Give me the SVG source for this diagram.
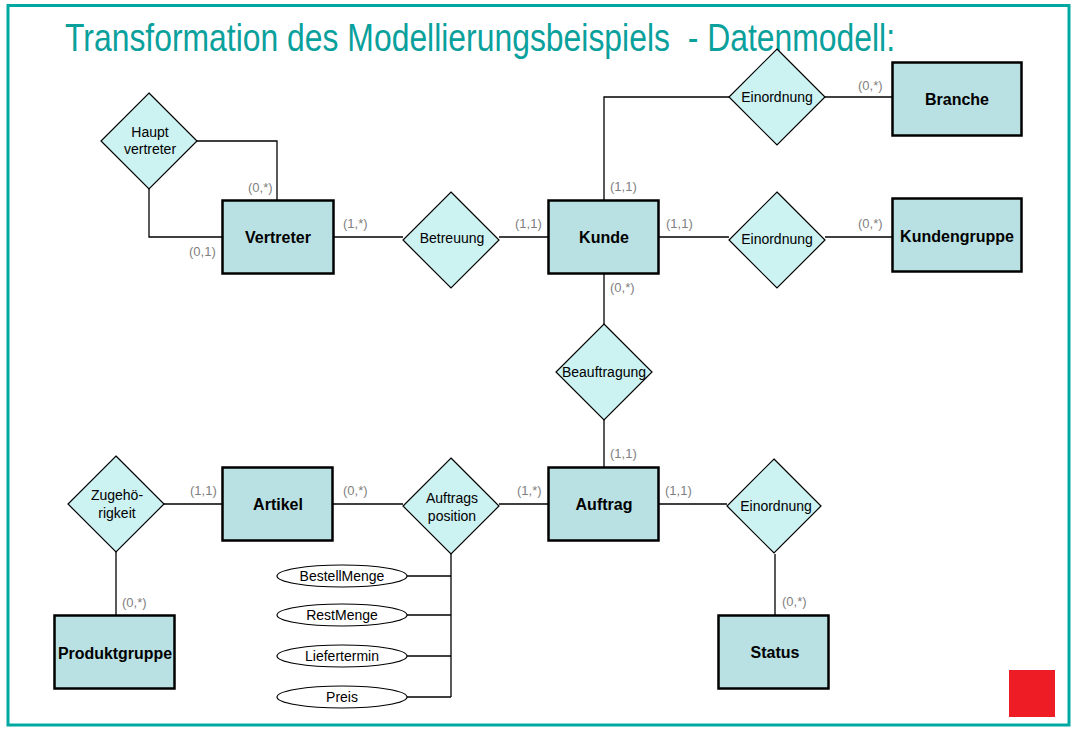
<svg xmlns="http://www.w3.org/2000/svg" width="1076" height="734" viewBox="0 0 1076 734">
<style>
.ent{fill:#b9e0e2;stroke:#000;stroke-width:2.5}
.rel{fill:#ccf2f2;stroke:#000;stroke-width:1.2}
.att{fill:#fff;stroke:#000;stroke-width:1.2}
.ln{fill:none;stroke:#000;stroke-width:1.3}
.et{font-family:"Liberation Sans",Arial,sans-serif;font-weight:bold;font-size:16px;fill:#000;text-anchor:middle}
.rt{font-family:"Liberation Sans",Arial,sans-serif;font-size:14px;fill:#000;text-anchor:middle}
.at{font-family:"Liberation Sans",Arial,sans-serif;font-size:14px;fill:#000;text-anchor:middle}
.ct{font-family:"Liberation Sans",Arial,sans-serif;font-size:13px;fill:#7f7f7f}
</style>
<rect x="0" y="0" width="1076" height="734" fill="#fff"/>
<rect x="8" y="5.5" width="1061" height="719.5" fill="none" stroke="#00a8a2" stroke-width="3"/>
<text x="65" y="51" font-family="'Liberation Sans',Arial,sans-serif" font-size="39" fill="#0aa09c" textLength="830" lengthAdjust="spacingAndGlyphs" xml:space="preserve" style="white-space:pre">Transformation des Modellierungsbeispiels  - Datenmodell:</text>

<g id="connectors">
<polyline class="ln" points="197,141 277,141 277,200"/>
<polyline class="ln" points="149,189 149,237 222,237"/>
<line class="ln" x1="333" y1="237" x2="403" y2="237"/>
<line class="ln" x1="499" y1="237" x2="549" y2="237"/>
<polyline class="ln" points="604,200 604,97 729,97"/>
<line class="ln" x1="825" y1="97" x2="892" y2="97"/>
<line class="ln" x1="659" y1="237" x2="729" y2="237"/>
<line class="ln" x1="825" y1="237" x2="892" y2="237"/>
<line class="ln" x1="604" y1="273" x2="604" y2="324"/>
<line class="ln" x1="604" y1="420" x2="604" y2="467"/>
<line class="ln" x1="163" y1="504" x2="222" y2="504"/>
<line class="ln" x1="116" y1="551" x2="116" y2="615"/>
<line class="ln" x1="333" y1="504" x2="403" y2="504"/>
<line class="ln" x1="499" y1="504" x2="548" y2="504"/>
<line class="ln" x1="658" y1="504" x2="727" y2="504"/>
<line class="ln" x1="775" y1="554" x2="775" y2="615"/>
<line class="ln" x1="451" y1="554" x2="451" y2="697"/>
<line class="ln" x1="407" y1="576" x2="451" y2="576"/>
<line class="ln" x1="407" y1="615" x2="451" y2="615"/>
<line class="ln" x1="407" y1="656" x2="451" y2="656"/>
<line class="ln" x1="407" y1="697" x2="451" y2="697"/>
<text class="ct" x="248" y="192">(0,*)</text>
<text class="ct" x="189" y="256">(0,1)</text>
<text class="ct" x="343" y="228">(1,*)</text>
<text class="ct" x="515" y="228">(1,1)</text>
<text class="ct" x="610" y="191">(1,1)</text>
<text class="ct" x="858" y="90">(0,*)</text>
<text class="ct" x="666" y="228">(1,1)</text>
<text class="ct" x="858" y="228">(0,*)</text>
<text class="ct" x="610" y="292">(0,*)</text>
<text class="ct" x="610" y="458">(1,1)</text>
<text class="ct" x="190" y="495">(1,1)</text>
<text class="ct" x="343" y="495">(0,*)</text>
<text class="ct" x="517" y="495">(1,*)</text>
<text class="ct" x="665" y="495">(1,1)</text>
<text class="ct" x="122" y="607">(0,*)</text>
<text class="ct" x="782" y="606">(0,*)</text>
</g>

<g id="Vertreter"><rect class="ent" x="222.5" y="200.5" width="111" height="73"/><text class="et" x="278" y="243">Vertreter</text></g>
<g id="Kunde"><rect class="ent" x="548.5" y="200.5" width="110" height="73"/><text class="et" x="604" y="243">Kunde</text></g>
<g id="Branche"><rect class="ent" x="892.5" y="62.5" width="129" height="73"/><text class="et" x="957" y="105">Branche</text></g>
<g id="Kundengruppe"><rect class="ent" x="892.5" y="198.5" width="129" height="73"/><text class="et" x="957" y="242">Kundengruppe</text></g>
<g id="Artikel"><rect class="ent" x="222.5" y="467.5" width="110" height="73"/><text class="et" x="278" y="510">Artikel</text></g>
<g id="Auftrag"><rect class="ent" x="548.5" y="467.5" width="110" height="73"/><text class="et" x="604" y="510">Auftrag</text></g>
<g id="Produktgruppe"><rect class="ent" x="54.5" y="615.5" width="120" height="73"/><text class="et" x="115" y="659" textLength="114" lengthAdjust="spacingAndGlyphs">Produktgruppe</text></g>
<g id="Status"><rect class="ent" x="718.5" y="615.5" width="110" height="73"/><text class="et" x="775" y="658">Status</text></g>

<g id="Hauptvertreter"><polygon class="rel" points="149,93 197,141 149,189 101,141"/><text class="rt" x="150" y="137">Haupt</text><text class="rt" x="150" y="154">vertreter</text></g>
<g id="Betreuung"><polygon class="rel" points="451,192 499,240 451,288 403,240"/><text class="rt" x="452" y="243">Betreuung</text></g>
<g id="EinordnungBranche"><polygon class="rel" points="777,49 825,97 777,145 729,97"/><text class="rt" x="777" y="102">Einordnung</text></g>
<g id="EinordnungKundengruppe"><polygon class="rel" points="777,192 825,240 777,288 729,240"/><text class="rt" x="777" y="244">Einordnung</text></g>
<g id="Beauftragung"><polygon class="rel" points="604,324 652,372 604,420 556,372"/><text class="rt" x="604" y="377">Beauftragung</text></g>
<g id="Zugehoerigkeit"><polygon class="rel" points="116,456 164,504 116,552 68,504"/><text class="rt" x="117" y="500">Zugehö-</text><text class="rt" x="117" y="518">rigkeit</text></g>
<g id="Auftragsposition"><polygon class="rel" points="451,458 499,506 451,554 403,506"/><text class="rt" x="452" y="503">Auftrags</text><text class="rt" x="452" y="521">position</text></g>
<g id="EinordnungStatus"><polygon class="rel" points="774,459 821,506 774,553 727,506"/><text class="rt" x="776" y="511">Einordnung</text></g>

<g id="BestellMenge"><ellipse class="att" cx="342" cy="576" rx="65" ry="11"/><text class="at" x="342" y="581">BestellMenge</text></g>
<g id="RestMenge"><ellipse class="att" cx="342" cy="615" rx="65" ry="11"/><text class="at" x="342" y="620">RestMenge</text></g>
<g id="Liefertermin"><ellipse class="att" cx="342" cy="656" rx="65" ry="11"/><text class="at" x="342" y="661">Liefertermin</text></g>
<g id="Preis"><ellipse class="att" cx="342" cy="697" rx="65" ry="11"/><text class="at" x="342" y="702">Preis</text></g>

<rect x="1009" y="670" width="46" height="47" fill="#ee1c24"/>
</svg>
